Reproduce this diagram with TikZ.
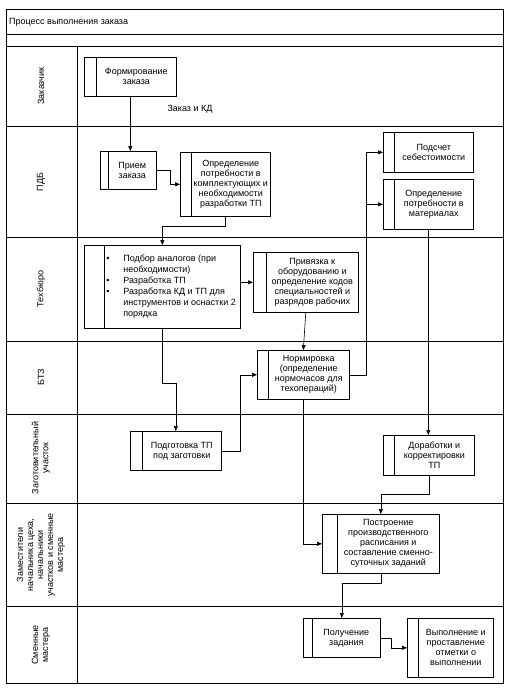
\documentclass[tikz,border=0pt]{standalone}
\usepackage{fontspec}
\setmainfont{Liberation Sans}
\usetikzlibrary{arrows.meta,calc}
\newcommand{\mkproc}[7]{%
  \node[box, anchor=north west, minimum width={#4-#2}, minimum height={#5-#3}] (#1) at (#2,#3)
    {\hspace*{#6pt}\parbox{\dimexpr #4pt-#2pt-#6pt-4pt\relax}{\centering #7}};
  \draw[line width=0.6pt] ([xshift=#6pt]#1.north west) -- ([xshift=#6pt]#1.south west);}
\begin{document}
\begin{tikzpicture}[x=1pt,y=-1pt,
  every node/.style={font=\fontsize{9}{10}\selectfont},
  box/.style={draw, line width=0.6pt, inner sep=0pt, fill=white},
  arr/.style={line width=0.6pt, -{Triangle[length=5pt,width=4pt]}},
  lane/.style={line width=0.7pt},
  lanelabel/.style={rotate=90, align=center, inner sep=0pt}]
\useasboundingbox (0,0) rectangle (509,689);
% frame and lanes
\draw[lane] (6,9) rectangle (503,683);
\draw[lane] (6,34) -- (503,34);
\draw[lane] (6,46) -- (503,46);
\foreach \yy in {126,237,341,414,503,606} \draw[lane] (6,\yy) -- (503,\yy);
\draw[lane] (77,46) -- (77,683);
% title and lane labels
\node[anchor=west, inner sep=0pt] (title) at (9,22) {Процесс выполнения заказа};
\node[lanelabel] (l1) at (41,86) {Заказчик};
\node[lanelabel] (l2) at (41,182) {ПДБ};
\node[lanelabel] (l3) at (41,289) {Техбюро};
\node[lanelabel] (l4) at (41,377) {БТЗ};
\node[lanelabel] (l5) at (41,458) {Заготовительный\\участок};
\node[lanelabel] (l6) at (41,555) {Заместители\\начальника цеха,\\начальники\\участков и сменные\\мастера};
\node[lanelabel] (l7) at (41,645) {Сменные\\мастера};
% processes
\mkproc{form}{84}{57}{176}{96}{12}{Формирование\\заказа}
\mkproc{priem}{100}{151}{156}{189}{8}{Прием\\заказа}
\mkproc{opr}{180}{152}{270}{216}{11}{Определение\\потребности в\\комплектующих и\\необходимости\\разработки ТП}
\mkproc{podsch}{383}{132}{473}{172}{11}{Подсчет\\себестоимости}
\mkproc{mat}{383}{179}{473}{229}{11}{Определение\\потребности в\\материалах}
\node[box, anchor=north west, minimum width=156, minimum height=83] (tech) at (84,245)
  {\makebox[156pt][l]{\hspace*{22pt}\fontsize{9}{11}\selectfont\begin{tabular}{@{}l@{}l@{}}
  \makebox[17pt][l]{\textbullet} & Подбор аналогов (при\\
  & необходимости)\\
  \makebox[17pt][l]{\textbullet} & Разработка ТП\\
  \makebox[17pt][l]{\textbullet} & Разработка КД и ТП для\\
  & инструментов и оснастки 2\\
  & порядка
  \end{tabular}}};
\draw[line width=0.6pt] ([xshift=20pt]tech.north west) -- ([xshift=20pt]tech.south west);
\mkproc{priv}{253}{252}{358}{312}{13}{Привязка к\\оборудованию и\\определение кодов\\специальностей и\\разрядов рабочих}
\mkproc{norm}{257}{350}{349}{399}{11}{Нормировка\\(определение\\нормочасов для\\техопераций)}
\mkproc{podg}{130}{431}{221}{470}{12}{Подготовка ТП\\под заготовки}
\mkproc{dor}{383}{435}{474}{475}{11}{Доработки и\\корректировки\\ТП}
\mkproc{post}{322}{514}{439}{573}{15}{Построение\\производственного\\расписания и\\составление сменно-\\суточных заданий}
\mkproc{pol}{303}{618}{380}{657}{9}{Получение\\задания}
\mkproc{vyp}{407}{618}{493}{677}{11}{Выполнение и\\проставление\\отметки о\\выполнении}
% label
\node[inner sep=0pt] (zk) at (190,109) {Заказ и КД};
% connectors
\draw[arr] (form.south) -- (form.south |- priem.north);
\draw[arr] (priem.east) -- ++(14,0) |- (opr.west);
\draw[arr] (opr.south) -- ++(0,10) -| (tech.north);
\draw[arr] (tech.east |- priv.west) -- (priv.west);
\draw[arr] (priv.south) -- (norm.north);
\coordinate (bus) at ([xshift=17pt]norm.east);
\draw[arr] (norm.east) -- (bus) |- (podsch.west);
\draw[arr] (bus) |- (mat.west);
\draw[arr] (tech.south) -- ++(0,55) -| (podg.north);
\draw[arr] (podg.east) -- ++(19,0) |- (norm.west);
\draw[arr] (mat.south) -- (mat.south |- dor.north);
\draw[arr] (norm.south) |- (post.west);
\draw[arr] (dor.south) -- ++(0,19) -| (post.north);
\draw[arr] (post.south) -- ++(0,10) -| (pol.north);
\draw[arr] (pol.east) -- ++(11,0) |- (vyp.west);
\end{tikzpicture}
\end{document}
